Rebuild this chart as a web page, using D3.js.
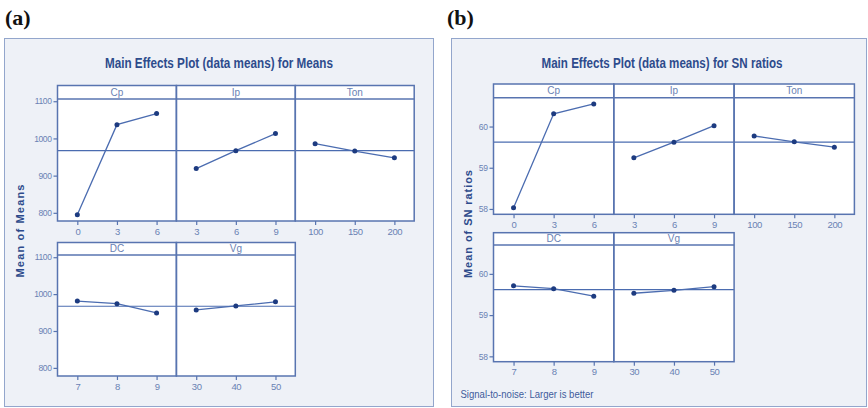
<!DOCTYPE html>
<html>
<head>
<meta charset="utf-8">
<script src="https://cdn.jsdelivr.net/npm/d3@7"></script>
<style>
  html, body { margin: 0; padding: 0; background: #ffffff; }
  svg { display: block; }
  .narrow { font-family: "Liberation Sans Narrow", "Liberation Sans", Arial, sans-serif; }
</style>
</head>
<body>
<svg id="chart" width="868" height="408"></svg>
<script>
// Factor names and their levels
const factorNames = ["Cp", "Ip", "Ton", "DC", "Vg"];
const cpLevels  = [0, 3, 6];
const ipLevels  = [3, 6, 9];
const tonLevels = [100, 150, 200];
const dcLevels  = [7, 8, 9];
const vgLevels  = [30, 40, 50];

// Mean response at each level
const meansCp  = [795, 1037, 1067];
const meansIp  = [919, 967, 1013];
const meansTon = [986, 966, 948];
const meansDC  = [981, 974, 949];
const meansVg  = [957, 968, 979];

// Mean S/N ratio at each level (larger is better)
const snCp  = [58.03, 60.31, 60.55];
const snIp  = [59.24, 59.62, 60.02];
const snTon = [59.77, 59.63, 59.50];
const snDC  = [59.71, 59.64, 59.46];
const snVg  = [59.53, 59.60, 59.69];

// Axis tick labels
const meansTicks = [800, 900, 1000, 1100];
const snTicks = [58, 59, 60];

const levelSets = [cpLevels, ipLevels, tonLevels, dcLevels, vgLevels];
const meansSets = [meansCp, meansIp, meansTon, meansDC, meansVg];
const snSets = [snCp, snIp, snTon, snDC, snVg];

const svg = d3.select("#chart");

const COL_FRAME = "#5874b0";
const COL_LINE = "#4b6cb0";
const COL_DOT = "#1d3b80";
const COL_TEXT = "#6a82b4";
const COL_TITLE = "#2d4b8c";

function drawChart(cfg) {
  const g = svg.append("g");

  // outer shaded panel
  g.append("rect")
    .attr("x", cfg.box.x + 0.5).attr("y", cfg.box.y + 0.5)
    .attr("width", cfg.box.w).attr("height", cfg.box.h)
    .attr("fill", "#eef1f7").attr("stroke", "#93a6cc").attr("stroke-width", 1);

  // panel letter
  g.append("text")
    .attr("x", cfg.letterX).attr("y", 25)
    .attr("font-family", "'Liberation Serif', 'DejaVu Serif', serif")
    .attr("font-weight", "bold").attr("font-size", 22)
    .attr("fill", "#111").text(cfg.letter);

  // title
  g.append("text").attr("class", "narrow")
    .attr("x", cfg.titleX).attr("y", 68)
    .attr("text-anchor", "middle")
    .attr("font-weight", "bold").attr("font-size", 14)
    .attr("textLength", cfg.titleLen).attr("lengthAdjust", "spacingAndGlyphs")
    .attr("fill", COL_TITLE).text(cfg.title);

  // y axis title
  g.append("text").attr("class", "narrow")
    .attr("transform", `translate(${cfg.yTitleX},${cfg.yTitleY}) rotate(-90)`)
    .attr("text-anchor", "middle")
    .attr("font-weight", "bold").attr("font-size", 11)
    .attr("textLength", cfg.yTitleLen).attr("lengthAdjust", "spacing")
    .attr("fill", COL_TITLE).text(cfg.yTitle);

  if (cfg.footnote) {
    g.append("text").attr("class", "narrow")
      .attr("x", cfg.footnote.x).attr("y", cfg.footnote.y)
      .attr("font-size", 11).attr("fill", "#3f5c9c")
      .attr("textLength", cfg.footnote.len).attr("lengthAdjust", "spacingAndGlyphs")
      .text(cfg.footnote.text);
  }

  const allVals = cfg.values.flat();
  const grandMean = d3.mean(allVals);

  cfg.rows.forEach((row, ri) => {
    const y = d3.scaleLinear().domain(cfg.yDomain).range([row.bottom, row.plotTop]);
    const factorsInRow = ri === 0 ? [0, 1, 2] : [3, 4];
    const n = factorsInRow.length;
    const left = cfg.left;
    const right = left + n * cfg.colW;

    // white plot area including the header strip
    g.append("rect")
      .attr("x", left).attr("y", row.headTop)
      .attr("width", right - left).attr("height", row.bottom - row.headTop)
      .attr("fill", "#ffffff");

    // y axis
    const yAxis = d3.axisLeft(y).tickValues(cfg.ticks).tickSize(4).tickPadding(2)
      .tickFormat(d3.format("d"));
    const ya = g.append("g").attr("class", "narrow")
      .attr("transform", `translate(${left},0)`).call(yAxis);
    ya.select(".domain").remove();
    ya.selectAll(".tick line").attr("stroke", COL_FRAME).attr("stroke-width", 1.2);
    ya.selectAll(".tick text").attr("fill", COL_TEXT).attr("font-size", 8.5)
      .attr("font-family", null).attr("letter-spacing", -0.4);

    factorsInRow.forEach((fi, ci) => {
      const x0 = left + ci * cfg.colW;
      const x1 = x0 + cfg.colW;
      const levels = levelSets[fi];
      const vals = cfg.values[fi];
      const x = d3.scalePoint().domain(levels).range([x0, x1]).padding(0.5);

      // x axis
      const xAxis = d3.axisBottom(x).tickSize(4).tickPadding(3);
      const xa = g.append("g").attr("class", "narrow")
        .attr("transform", `translate(0,${row.bottom})`).call(xAxis);
      xa.select(".domain").remove();
      xa.selectAll(".tick line").attr("stroke", COL_FRAME).attr("stroke-width", 1.2);
      xa.selectAll(".tick text").attr("fill", COL_TEXT).attr("font-size", 9.5)
        .attr("font-family", null).attr("letter-spacing", -0.4);

      // grand mean reference line
      g.append("line")
        .attr("x1", x0).attr("x2", x1)
        .attr("y1", y(grandMean)).attr("y2", y(grandMean))
        .attr("stroke", COL_LINE).attr("stroke-width", 1.2);

      // main effect line
      const pts = levels.map((lv, i) => [x(lv), y(vals[i])]);
      g.append("path")
        .attr("d", d3.line()(pts))
        .attr("fill", "none").attr("stroke", COL_LINE).attr("stroke-width", 1.3);
      g.selectAll(null).data(pts).enter().append("circle")
        .attr("cx", d => d[0]).attr("cy", d => d[1]).attr("r", 2.5)
        .attr("fill", COL_DOT);

      // header strip with factor name
      g.append("text").attr("class", "narrow")
        .attr("x", (x0 + x1) / 2).attr("y", (row.headTop + row.plotTop) / 2 + 3.5)
        .attr("text-anchor", "middle").attr("font-size", 10)
        .attr("fill", COL_TEXT).text(factorNames[fi]);

      // frame for this cell
      g.append("rect")
        .attr("x", x0).attr("y", row.headTop)
        .attr("width", cfg.colW).attr("height", row.bottom - row.headTop)
        .attr("fill", "none").attr("stroke", COL_FRAME).attr("stroke-width", 1.5);
      g.append("line")
        .attr("x1", x0).attr("x2", x1)
        .attr("y1", row.plotTop).attr("y2", row.plotTop)
        .attr("stroke", COL_FRAME).attr("stroke-width", 1.5);
    });
  });
}

drawChart({
  letter: "(a)", letterX: 5,
  box: { x: 4, y: 38, w: 429, h: 368 },
  title: "Main Effects Plot (data means) for Means", titleX: 219, titleLen: 228,
  yTitle: "Mean of Means", yTitleX: 24, yTitleY: 231, yTitleLen: 93,
  left: 57.5, colW: 118.9,
  rows: [
    { headTop: 85.5, plotTop: 99, bottom: 221 },
    { headTop: 242.5, plotTop: 255, bottom: 376 }
  ],
  yDomain: [778, 1106],
  ticks: meansTicks,
  values: meansSets
});

drawChart({
  letter: "(b)", letterX: 447,
  box: { x: 451, y: 38, w: 415, h: 368 },
  title: "Main Effects Plot (data means) for SN ratios", titleX: 662, titleLen: 241,
  yTitle: "Mean of SN ratios", yTitleX: 472, yTitleY: 224, yTitleLen: 108,
  left: 493.5, colW: 120.3,
  rows: [
    { headTop: 84, plotTop: 97.7, bottom: 214.3 },
    { headTop: 232.7, plotTop: 245, bottom: 361.7 }
  ],
  yDomain: [57.87, 60.70],
  ticks: snTicks,
  values: snSets,
  footnote: { x: 460.5, y: 398, text: "Signal-to-noise: Larger is better", len: 133 }
});
</script>
</body>
</html>
